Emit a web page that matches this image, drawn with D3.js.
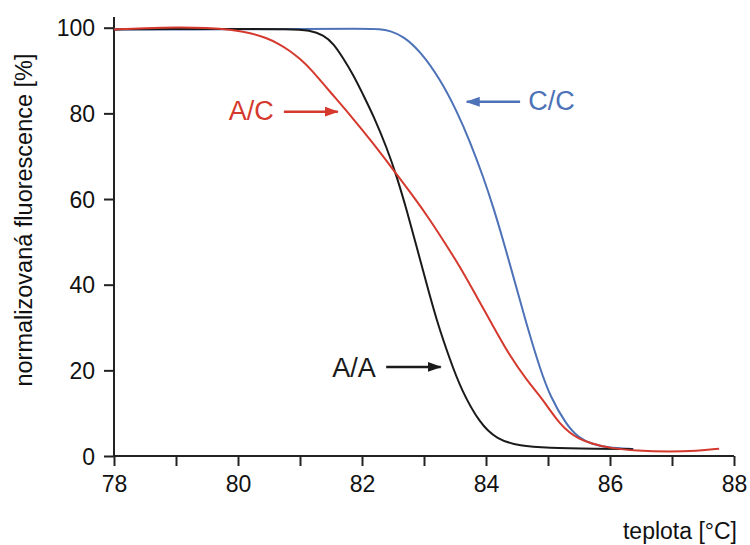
<!DOCTYPE html>
<html>
<head>
<meta charset="utf-8">
<script src="https://cdn.jsdelivr.net/npm/d3@7"></script>
<style>
  html, body { margin: 0; padding: 0; background: #fff; }
  svg { display: block; }
  text { font-family: "Liberation Sans", Arial, sans-serif; }
</style>
</head>
<body>
<svg id="chart" width="750" height="545"></svg>
<script>
// ---- data ----
const xTicks = [78, 79, 80, 81, 82, 83, 84, 85, 86, 87, 88];
const xTickLabels = ["78", "", "80", "", "82", "", "84", "", "86", "", "88"];
const yTicks = [0, 20, 40, 60, 80, 100];
const yTickLabels = ["0", "20", "40", "60", "80", "100"];

const tempAA = [78, 79, 80, 80.84, 81.16, 81.38, 81.54, 81.70, 81.86, 82.02, 82.18, 82.4, 82.56, 82.72, 82.88, 83.04, 83.2, 83.42, 83.6, 83.9, 84.17, 84.55, 84.98, 85.79, 86.37];
const valAA  = [99.6, 99.7, 99.7, 99.7, 99.4, 98.3, 96.3, 92.8, 89.0, 84.3, 79.6, 72.0, 65.3, 57.5, 48.9, 40.3, 31.8, 22.4, 15.5, 7.6, 3.9, 2.3, 1.9, 1.7, 1.6];

const tempAC = [78, 78.5, 79, 79.5, 79.92, 80.2, 80.46, 80.65, 80.84, 81.0, 81.16, 81.48, 81.81, 82.18, 82.5, 82.83, 83.1, 83.37, 83.58, 83.85, 84.12, 84.39, 84.66, 84.92, 85.03, 85.19, 85.35, 85.49, 85.68, 86.0, 86.43, 86.97, 87.4, 87.76];
const valAC  = [99.6, 99.9, 100.1, 100.0, 99.5, 98.8, 97.6, 96.3, 94.6, 92.7, 90.6, 85.1, 79.6, 73.0, 66.9, 60.6, 55.1, 49.0, 44.2, 37.2, 30.2, 23.2, 17.7, 13.1, 10.7, 7.6, 5.4, 4.1, 3.0, 1.8, 1.2, 1.0, 1.2, 1.7];

const tempCC = [78, 80, 81, 82, 82.3, 82.45, 82.67, 82.94, 83.26, 83.53, 83.74, 83.96, 84.12, 84.28, 84.41, 84.55, 84.71, 84.87, 85.03, 85.3, 85.49, 85.7, 85.95, 86.38];
const valCC  = [99.6, 99.6, 99.7, 99.8, 99.7, 99.3, 98.0, 94.5, 88.0, 80.5, 73.5, 65.0, 58.0, 50.2, 43.5, 36.2, 28.0, 20.5, 14.0, 7.2, 4.3, 2.8, 2.0, 1.6];

const seriesNames = ["A/A", "A/C", "C/C"];
const seriesColors = ["#1a1a1a", "#d5392d", "#4d72b8"];

// annotation anchors in data units: label position and arrow start/end
const annotLabelT = [81.52, 79.85, 84.68];
const annotLabelV = [18.4, 78.45, 80.8];
const annotArrowFromT = [82.39, 80.74, 84.55];
const annotArrowToT   = [83.27, 81.61, 83.69];
const annotArrowV     = [20.8, 80.4, 82.7];

const xTitle = "teplota [°C]";
const yTitle = "normalizovaná fluorescence [%]";

// ---- chart ----
const svg = d3.select("#chart");
const x = d3.scaleLinear().domain([78, 88]).range([114, 734]);
const y = d3.scaleLinear().domain([0, 102.5]).range([456, 17]);

const axisColor = "#222";

// axes
const xAxis = d3.axisBottom(x).tickValues(xTicks).tickSize(10)
  .tickFormat((d, i) => xTickLabels[i]);
const gx = svg.append("g").attr("transform", `translate(0,${y(0)})`).call(xAxis);
gx.select(".domain").attr("d", `M${x(78)},0H${x(88)}`).attr("stroke", axisColor).attr("stroke-width", 2);
gx.selectAll(".tick line").attr("stroke", axisColor).attr("stroke-width", 2);
gx.selectAll(".tick text").attr("font-size", 23).attr("fill", "#111").attr("dy", 0).attr("y", 36);

const yAxis = d3.axisLeft(y).tickValues(yTicks).tickSize(10)
  .tickFormat((d, i) => yTickLabels[i]);
const gy = svg.append("g").attr("transform", `translate(${x(78)},0)`).call(yAxis);
gy.select(".domain").attr("d", `M0,${y(0)}V${y(102.5)}`).attr("stroke", axisColor).attr("stroke-width", 2);
gy.selectAll(".tick line").attr("stroke", axisColor).attr("stroke-width", 2);
gy.selectAll(".tick text").attr("font-size", 23).attr("fill", "#111").attr("x", -19).attr("dy", "0.36em");

// lines
const seriesT = [tempAA, tempAC, tempCC];
const seriesV = [valAA, valAC, valCC];
const line = d3.line().x(d => x(d[0])).y(d => y(d[1])).curve(d3.curveBasis);
[2, 0, 1].forEach(i => {
  const pts = seriesT[i].map((t, j) => [t, seriesV[i][j]]);
  svg.append("path").datum(pts)
    .attr("d", line)
    .attr("fill", "none")
    .attr("stroke", seriesColors[i])
    .attr("stroke-width", 2)
    .attr("stroke-linejoin", "round");
});

// arrow markers
const defs = svg.append("defs");
seriesColors.forEach((c, i) => {
  defs.append("marker")
    .attr("id", "arr" + i)
    .attr("viewBox", "0 0 14 10")
    .attr("refX", 13).attr("refY", 5)
    .attr("markerWidth", 14).attr("markerHeight", 10)
    .attr("markerUnits", "userSpaceOnUse")
    .attr("orient", "auto")
    .append("path").attr("d", "M0,0L14,5L0,10Z").attr("fill", c);
});

seriesNames.forEach((name, i) => {
  svg.append("text")
    .attr("x", x(annotLabelT[i])).attr("y", y(annotLabelV[i]))
    .attr("font-size", 27)
    .attr("fill", seriesColors[i])
    .text(name);
  svg.append("line")
    .attr("x1", x(annotArrowFromT[i])).attr("x2", x(annotArrowToT[i]))
    .attr("y1", y(annotArrowV[i])).attr("y2", y(annotArrowV[i]))
    .attr("stroke", seriesColors[i])
    .attr("stroke-width", 2.5)
    .attr("marker-end", `url(#arr${i})`);
});

// titles
svg.append("text")
  .attr("x", 737).attr("y", 539)
  .attr("text-anchor", "end")
  .attr("font-size", 23)
  .attr("fill", "#111")
  .text(xTitle);

svg.append("text")
  .attr("transform", `translate(32,220) rotate(-90)`)
  .attr("text-anchor", "middle")
  .attr("font-size", 23.5)
  .attr("fill", "#111")
  .text(yTitle);
</script>
</body>
</html>
